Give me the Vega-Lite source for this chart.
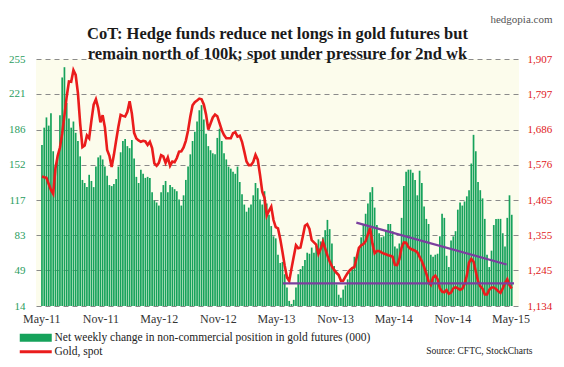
{
"$schema": "https://vega.github.io/schema/vega-lite/v6.json",
"width": 483, "height": 247,
"autosize": {"type": "none"},
"padding": {"left": 36, "top": 59, "right": 45, "bottom": 61},
"background": "#ffffff",
"config": {"view": {"fill": "#fcfcec", "stroke": null}, "font": "Liberation Serif"},
"title": {"text": ["CoT: Hedge funds reduce net longs in gold futures but", "remain north of 100k; spot under pressure for 2nd wk"], "font": "Liberation Serif", "fontSize": 16.5, "fontWeight": "bold", "color": "#1a1a1a", "lineHeight": 20, "offset": -49, "anchor": "middle", "frame": "group"},
"datasets": {
"main": [
{"d":"2011-05-03","n":171,"g":1539},{"d":"2011-05-10","n":188,"g":1537},{"d":"2011-05-17","n":198,"g":1535},{"d":"2011-05-24","n":190,"g":1516},{"d":"2011-05-31","n":202,"g":1497},
{"d":"2011-06-07","n":165,"g":1485},{"d":"2011-06-14","n":152,"g":1565},{"d":"2011-06-21","n":160,"g":1604},{"d":"2011-06-28","n":200,"g":1630},
{"d":"2011-07-05","n":237,"g":1674},{"d":"2011-07-12","n":247,"g":1731},{"d":"2011-07-19","n":212,"g":1789},{"d":"2011-07-26","n":197,"g":1837},
{"d":"2011-08-02","n":188,"g":1836},{"d":"2011-08-09","n":194,"g":1872},{"d":"2011-08-16","n":183,"g":1857},{"d":"2011-08-23","n":175,"g":1800},{"d":"2011-08-30","n":160,"g":1705},
{"d":"2011-09-06","n":137,"g":1631},{"d":"2011-09-13","n":134,"g":1636},{"d":"2011-09-20","n":130,"g":1668},{"d":"2011-09-27","n":142,"g":1659},
{"d":"2011-10-04","n":136,"g":1714},{"d":"2011-10-11","n":130,"g":1764},{"d":"2011-10-18","n":150,"g":1781},{"d":"2011-10-25","n":159,"g":1754},
{"d":"2011-11-01","n":161,"g":1709},{"d":"2011-11-08","n":157,"g":1731},{"d":"2011-11-15","n":150,"g":1693},{"d":"2011-11-22","n":141,"g":1622},{"d":"2011-11-29","n":132,"g":1604},
{"d":"2011-12-06","n":131,"g":1569},{"d":"2011-12-13","n":133,"g":1607},{"d":"2011-12-20","n":138,"g":1652},{"d":"2011-12-27","n":150,"g":1695},
{"d":"2012-01-03","n":164,"g":1732},{"d":"2012-01-10","n":175,"g":1729},{"d":"2012-01-17","n":177,"g":1727},{"d":"2012-01-24","n":170,"g":1742},{"d":"2012-01-31","n":168,"g":1775},
{"d":"2012-02-07","n":176,"g":1736},{"d":"2012-02-14","n":158,"g":1676},{"d":"2012-02-21","n":140,"g":1658},{"d":"2012-02-28","n":134,"g":1652},
{"d":"2012-03-06","n":147,"g":1648},{"d":"2012-03-13","n":143,"g":1651},{"d":"2012-03-20","n":139,"g":1649},{"d":"2012-03-27","n":140,"g":1638},
{"d":"2012-04-03","n":139,"g":1648},{"d":"2012-04-10","n":125,"g":1628},{"d":"2012-04-17","n":117,"g":1580},{"d":"2012-04-24","n":115,"g":1573},
{"d":"2012-05-01","n":112,"g":1582},{"d":"2012-05-08","n":125,"g":1606},{"d":"2012-05-15","n":132,"g":1602},{"d":"2012-05-22","n":136,"g":1582},{"d":"2012-05-29","n":125,"g":1599},
{"d":"2012-06-05","n":132,"g":1573},{"d":"2012-06-12","n":130,"g":1586},{"d":"2012-06-19","n":128,"g":1584},{"d":"2012-06-26","n":126,"g":1597},
{"d":"2012-07-03","n":118,"g":1617},{"d":"2012-07-10","n":112,"g":1618},{"d":"2012-07-17","n":122,"g":1630},{"d":"2012-07-24","n":137,"g":1651},{"d":"2012-07-31","n":150,"g":1683},
{"d":"2012-08-07","n":162,"g":1727},{"d":"2012-08-14","n":175,"g":1762},{"d":"2012-08-21","n":184,"g":1772},{"d":"2012-08-28","n":194,"g":1777},
{"d":"2012-09-04","n":205,"g":1783},{"d":"2012-09-11","n":210,"g":1781},{"d":"2012-09-18","n":196,"g":1765},{"d":"2012-09-25","n":182,"g":1733},
{"d":"2012-10-02","n":170,"g":1686},{"d":"2012-10-09","n":166,"g":1705},{"d":"2012-10-16","n":163,"g":1724},{"d":"2012-10-23","n":162,"g":1733},{"d":"2012-10-30","n":178,"g":1728},
{"d":"2012-11-06","n":187,"g":1706},{"d":"2012-11-13","n":175,"g":1684},{"d":"2012-11-20","n":163,"g":1669},{"d":"2012-11-27","n":157,"g":1659},
{"d":"2012-12-04","n":150,"g":1659},{"d":"2012-12-11","n":148,"g":1659},{"d":"2012-12-18","n":145,"g":1675},{"d":"2012-12-25","n":143,"g":1678},
{"d":"2013-01-01","n":150,"g":1664},{"d":"2013-01-08","n":135,"g":1667},{"d":"2013-01-15","n":123,"g":1648},{"d":"2013-01-22","n":113,"g":1618},{"d":"2013-01-29","n":106,"g":1586},
{"d":"2013-02-05","n":110,"g":1575},{"d":"2013-02-12","n":113,"g":1575},{"d":"2013-02-19","n":122,"g":1585},{"d":"2013-02-26","n":134,"g":1607},
{"d":"2013-03-05","n":129,"g":1592},{"d":"2013-03-12","n":118,"g":1545},{"d":"2013-03-19","n":113,"g":1492},{"d":"2013-03-26","n":126,"g":1473},
{"d":"2013-04-02","n":114,"g":1417},{"d":"2013-04-09","n":103,"g":1432},{"d":"2013-04-16","n":92,"g":1445},{"d":"2013-04-23","n":82,"g":1403},{"d":"2013-04-30","n":80,"g":1381},
{"d":"2013-05-07","n":64,"g":1377},{"d":"2013-05-14","n":56,"g":1344},{"d":"2013-05-21","n":57,"g":1303},{"d":"2013-05-28","n":45,"g":1260},
{"d":"2013-06-04","n":32,"g":1223},{"d":"2013-06-11","n":19,"g":1212},{"d":"2013-06-18","n":16,"g":1251},{"d":"2013-06-25","n":20,"g":1288},
{"d":"2013-07-02","n":32,"g":1324},{"d":"2013-07-09","n":45,"g":1315},{"d":"2013-07-16","n":50,"g":1317},{"d":"2013-07-23","n":53,"g":1350},{"d":"2013-07-30","n":59,"g":1385},
{"d":"2013-08-06","n":66,"g":1390},{"d":"2013-08-13","n":65,"g":1375},{"d":"2013-08-20","n":71,"g":1340},{"d":"2013-08-27","n":66,"g":1333},
{"d":"2013-09-03","n":73,"g":1326},{"d":"2013-09-10","n":79,"g":1297},{"d":"2013-09-17","n":77,"g":1313},{"d":"2013-09-24","n":81,"g":1335},
{"d":"2013-10-01","n":88,"g":1314},{"d":"2013-10-08","n":98,"g":1292},{"d":"2013-10-15","n":89,"g":1273},{"d":"2013-10-22","n":75,"g":1258},{"d":"2013-10-29","n":53,"g":1247},
{"d":"2013-11-05","n":35,"g":1238},{"d":"2013-11-12","n":25,"g":1231},{"d":"2013-11-19","n":22,"g":1213},{"d":"2013-11-26","n":30,"g":1213},
{"d":"2013-12-03","n":34,"g":1226},{"d":"2013-12-10","n":40,"g":1237},{"d":"2013-12-17","n":47,"g":1246},{"d":"2013-12-24","n":50,"g":1253},{"d":"2013-12-31","n":62,"g":1256},
{"d":"2014-01-07","n":61,"g":1285},{"d":"2014-01-14","n":71,"g":1316},{"d":"2014-01-21","n":81,"g":1324},{"d":"2014-01-28","n":94,"g":1328},
{"d":"2014-02-04","n":104,"g":1337},{"d":"2014-02-11","n":114,"g":1358},{"d":"2014-02-18","n":125,"g":1378},{"d":"2014-02-25","n":130,"g":1330},
{"d":"2014-03-04","n":110,"g":1299},{"d":"2014-03-11","n":93,"g":1306},{"d":"2014-03-18","n":85,"g":1306},{"d":"2014-03-25","n":81,"g":1302},
{"d":"2014-04-01","n":82,"g":1298},{"d":"2014-04-08","n":88,"g":1296},{"d":"2014-04-15","n":94,"g":1293},{"d":"2014-04-22","n":94,"g":1291},{"d":"2014-04-29","n":87,"g":1288},
{"d":"2014-05-06","n":72,"g":1263},{"d":"2014-05-13","n":70,"g":1262},{"d":"2014-05-20","n":75,"g":1281},{"d":"2014-05-27","n":100,"g":1317},
{"d":"2014-06-03","n":131,"g":1333},{"d":"2014-06-10","n":145,"g":1332},{"d":"2014-06-17","n":147,"g":1319},{"d":"2014-06-24","n":147,"g":1313},
{"d":"2014-07-01","n":144,"g":1310},{"d":"2014-07-08","n":137,"g":1307},{"d":"2014-07-15","n":122,"g":1302},{"d":"2014-07-22","n":146,"g":1288},{"d":"2014-07-29","n":134,"g":1274},
{"d":"2014-08-05","n":111,"g":1256},{"d":"2014-08-12","n":99,"g":1235},{"d":"2014-08-19","n":94,"g":1210},{"d":"2014-08-26","n":64,"g":1200},
{"d":"2014-09-02","n":62,"g":1223},{"d":"2014-09-09","n":64,"g":1229},{"d":"2014-09-16","n":65,"g":1218},{"d":"2014-09-23","n":82,"g":1190},{"d":"2014-09-30","n":104,"g":1179},
{"d":"2014-10-07","n":100,"g":1177},{"d":"2014-10-14","n":63,"g":1184},{"d":"2014-10-21","n":52,"g":1172},{"d":"2014-10-28","n":78,"g":1176},
{"d":"2014-11-04","n":82,"g":1189},{"d":"2014-11-11","n":87,"g":1193},{"d":"2014-11-18","n":108,"g":1189},{"d":"2014-11-25","n":115,"g":1185},
{"d":"2014-12-02","n":112,"g":1188},{"d":"2014-12-09","n":116,"g":1203},{"d":"2014-12-16","n":121,"g":1229},{"d":"2014-12-23","n":127,"g":1270},{"d":"2014-12-30","n":153,"g":1281},
{"d":"2015-01-06","n":181,"g":1273},{"d":"2015-01-13","n":165,"g":1242},{"d":"2015-01-20","n":135,"g":1211},{"d":"2015-01-27","n":127,"g":1196},
{"d":"2015-02-03","n":119,"g":1188},{"d":"2015-02-10","n":99,"g":1170},{"d":"2015-02-17","n":64,"g":1170},{"d":"2015-02-24","n":52,"g":1185},
{"d":"2015-03-03","n":68,"g":1192},{"d":"2015-03-10","n":93,"g":1192},{"d":"2015-03-17","n":99,"g":1187},{"d":"2015-03-24","n":99,"g":1180},{"d":"2015-03-31","n":99,"g":1175},
{"d":"2015-04-07","n":85,"g":1189},{"d":"2015-04-14","n":72,"g":1206},{"d":"2015-04-21","n":100,"g":1218},{"d":"2015-04-28","n":122,"g":1199},
{"d":"2015-05-05","n":103,"g":1189}
],
"trend": [
{"d":"2013-05-22","g":1205,"k":"support"},{"d":"2015-05-12","g":1205,"k":"support"},
{"d":"2014-01-06","g":1395,"k":"resistance"},{"d":"2015-04-19","g":1264,"k":"resistance"}
]
},
"encoding": {
"x": {"field": "d", "type": "temporal",
 "scale": {"type": "utc", "domain": [{"year": 2011, "month": 4, "date": 30, "utc": true}, {"year": 2015, "month": 5, "date": 12, "utc": true}]},
 "axis": {"values": [{"year":2011,"month":5,"date":1,"utc":true},{"year":2011,"month":11,"date":1,"utc":true},{"year":2012,"month":5,"date":1,"utc":true},{"year":2012,"month":11,"date":1,"utc":true},{"year":2013,"month":5,"date":1,"utc":true},{"year":2013,"month":11,"date":1,"utc":true},{"year":2014,"month":5,"date":1,"utc":true},{"year":2014,"month":11,"date":1,"utc":true},{"year":2015,"month":5,"date":1,"utc":true}],
  "format": "%b-%y", "grid": false, "domain": false, "ticks": false, "labelPadding": 7, "labelFont": "Liberation Serif", "labelFontSize": 12, "labelColor": "#333333", "labelFlush": false, "labelOverlap": false,
  "title": "Source: CFTC, StockCharts", "titleFont": "Liberation Serif", "titleFontSize": 9.5, "titleFontWeight": "normal", "titleColor": "#222222", "titleAnchor": "end", "titleAlign": "right", "titleBaseline": "alphabetic", "titleX": 496, "titleY": 47}}
},
"layer": [
{"data": {"name": "main"},
 "mark": {"type": "bar", "width": 1.7},
 "encoding": {
  "y": {"field": "n", "type": "quantitative", "scale": {"domain": [14, 255], "zero": false, "nice": false},
   "axis": {"orient": "left", "values": [14, 49, 83, 117, 152, 186, 221, 255], "title": null, "domain": false, "ticks": false, "labelPadding": 11, "labelFont": "Liberation Serif", "labelFontSize": 11, "labelColor": "#2a9d60", "grid": true, "gridColor": "#8a8a8a", "gridDash": [5, 4], "gridWidth": 1}},
  "y2": {"datum": 14},
  "color": {"datum": "Net weekly change in non-commercial position in gold futures (000)",
   "scale": {"domain": ["Net weekly change in non-commercial position in gold futures (000)", "Gold, spot"], "range": ["#16a25b", "#ea1c1c"]},
   "legend": {"orient": "none", "legendX": -6, "legendY": 273, "direction": "vertical", "title": null, "padding": 0,
    "labelFont": "Liberation Serif", "labelFontSize": 11.5, "labelColor": "#222222", "labelLimit": 500, "labelOffset": 13, "rowPadding": 1, "symbolSize": 64,
    "encode": {"symbols": {"update": {
     "shape": {"signal": "datum.value === 'Gold, spot' ? 'M-4,-0.35H4V0.35H-4Z' : 'M-4,-1H4V1H-4Z'"},
     "fill": {"signal": "datum.value === 'Gold, spot' ? '#ea1c1c' : '#16a25b'"},
     "stroke": {"value": "transparent"}, "strokeWidth": {"value": 0}, "size": {"value": 64}, "opacity": {"value": 1}}}}}}
 }},
{"layer": [
  {"data": {"name": "main"}, "mark": {"type": "line", "strokeWidth": 2.6}, "encoding": {"color": {"datum": "Gold, spot"}}},
  {"data": {"name": "trend"}, "mark": {"type": "line", "color": "#7b3f9e", "strokeWidth": 2.2}, "encoding": {"detail": {"field": "k"}}}
 ],
 "encoding": {
  "y": {"field": "g", "type": "quantitative", "scale": {"domain": [1134, 1907], "zero": false, "nice": false},
   "axis": {"orient": "right", "values": [1134, 1245, 1355, 1465, 1576, 1686, 1797, 1907], "format": ",d", "grid": false, "domain": false, "ticks": false, "labelPadding": 8, "labelFont": "Liberation Serif", "labelFontSize": 11, "labelColor": "#e0201b",
    "title": "hedgopia.com", "titleAngle": 0, "titleX": 33, "titleY": -37, "titleAlign": "right", "titleBaseline": "alphabetic", "titleFont": "Liberation Serif", "titleFontSize": 11, "titleFontWeight": "normal", "titleColor": "#555555"}}
 }}
],
"resolve": {"scale": {"y": "independent"}}
}
